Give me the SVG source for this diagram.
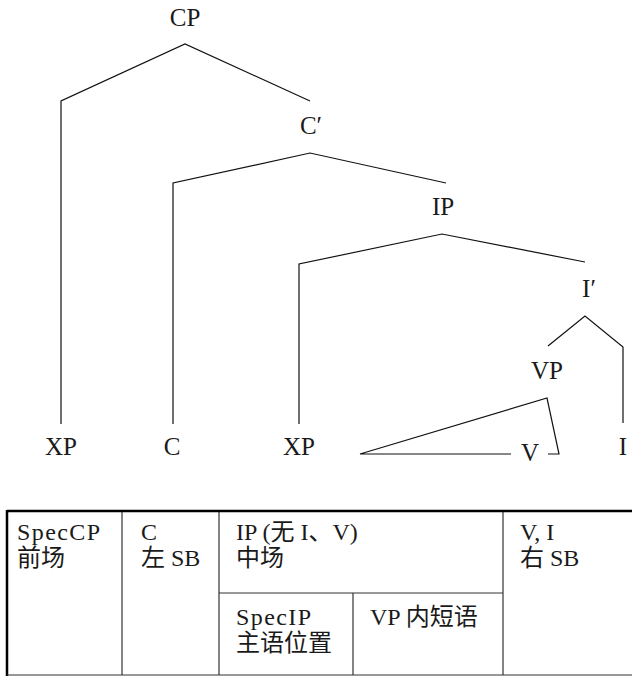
<svg xmlns="http://www.w3.org/2000/svg" width="632" height="676" viewBox="0 0 632 676">
  <style>
    .lbl { font-family: "Liberation Serif", "Noto Sans CJK SC", serif; font-size: 25px; fill: #1a1a1a; text-anchor: middle; }
    .cell { font-family: "Liberation Serif", "Noto Sans CJK SC", serif; font-size: 24px; fill: #1a1a1a; }
    .wide { letter-spacing: 1.4px; }
    .edge { fill: none; stroke: #111; stroke-width: 1.2; stroke-linejoin: miter; }
    .grid { stroke: #333; stroke-width: 1.2; }
    .frame { stroke: #000; stroke-width: 2.5; }
  </style>

  <!-- tree branches -->
  <g id="connectors">
    <polyline class="edge" points="61,424 61,101 185,44 310,101"/>
    <polyline class="edge" points="173,424 173,183 310,153 446,183"/>
    <polyline class="edge" points="299,424 299,264 442,234 585,262"/>
    <polyline class="edge" points="548,346 585,316 623,347 623,423"/>
    <polyline class="edge" points="511,454 360,454 547,398 559,454 548,454"/>
  </g>

  <!-- tree nodes -->
  <g id="node-CP"><text class="lbl" x="185" y="26">CP</text></g>
  <g id="node-Cbar"><text class="lbl" x="311" y="134">C′</text></g>
  <g id="node-IP"><text class="lbl" x="443" y="215">IP</text></g>
  <g id="node-Ibar"><text class="lbl" x="589" y="297">I′</text></g>
  <g id="node-VP"><text class="lbl" x="547" y="379">VP</text></g>
  <g id="node-XP1"><text class="lbl" x="61" y="455">XP</text></g>
  <g id="node-C"><text class="lbl" x="172" y="455">C</text></g>
  <g id="node-XP2"><text class="lbl" x="299" y="455">XP</text></g>
  <g id="node-V"><text class="lbl" x="530" y="461">V</text></g>
  <g id="node-I"><text class="lbl" x="623" y="455">I</text></g>

  <!-- topological fields table -->
  <g id="table">
    <line class="grid" x1="122" y1="511" x2="122" y2="675"/>
    <line class="grid" x1="219" y1="511" x2="219" y2="675"/>
    <line class="grid" x1="503" y1="511" x2="503" y2="675"/>
    <line class="grid" x1="353" y1="593" x2="353" y2="675"/>
    <line class="grid" x1="219" y1="593" x2="503" y2="593"/>
    <line class="frame" x1="7" y1="511" x2="632" y2="511"/>
    <line class="frame" x1="7" y1="510" x2="7" y2="676"/>
    <line class="grid" x1="7" y1="675" x2="632" y2="675" stroke-width="1.6"/>

    <g id="cell-speccp">
      <text class="cell wide" x="17" y="540">SpecCP</text>
      <text class="cell" x="17" y="566">前场</text>
    </g>
    <g id="cell-c">
      <text class="cell" x="141" y="540">C</text>
      <text class="cell" x="141" y="566">左 SB</text>
    </g>
    <g id="cell-ip">
      <text class="cell" x="236" y="540">IP (无 I、V)</text>
      <text class="cell" x="236" y="566">中场</text>
    </g>
    <g id="cell-vi">
      <text class="cell" x="520" y="540">V, I</text>
      <text class="cell" x="520" y="566">右 SB</text>
    </g>
    <g id="cell-specip">
      <text class="cell wide" x="236" y="625">SpecIP</text>
      <text class="cell" x="236" y="651">主语位置</text>
    </g>
    <g id="cell-vp">
      <text class="cell" x="370" y="625">VP 内短语</text>
    </g>
  </g>
</svg>
